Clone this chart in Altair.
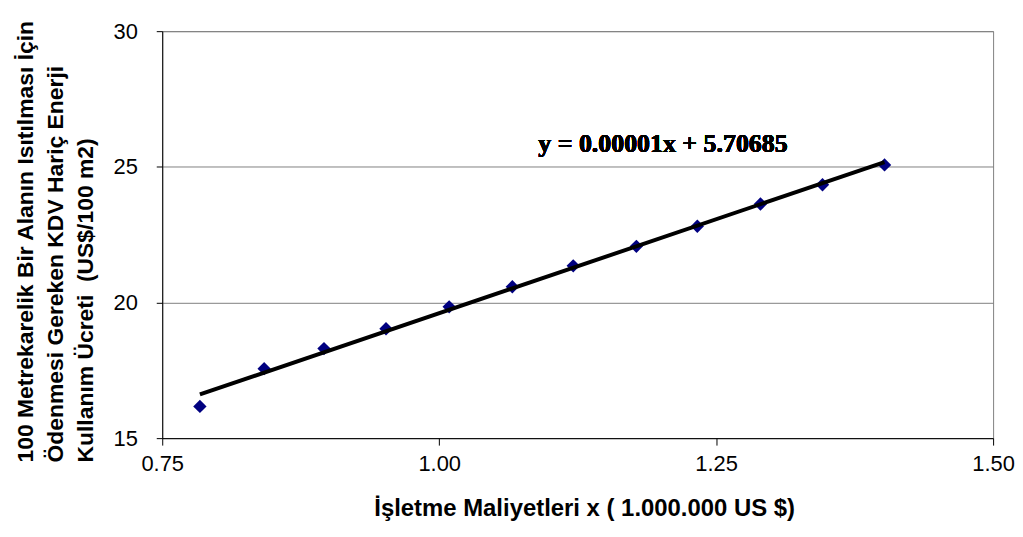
import altair as alt
import pandas as pd

# Data
cost_musd = [0.784, 0.842, 0.896, 0.952, 1.009, 1.066, 1.121, 1.178, 1.233, 1.290, 1.346, 1.402]
fee = [16.17, 17.56, 18.30, 19.03, 19.84, 20.58, 21.35, 22.07, 22.81, 23.63, 24.34, 25.07]
x_ticks = [0.75, 1.00, 1.25, 1.50]
y_ticks = [15, 20, 25, 30]
equation = "y = 0.00001x + 5.70685"
x_title = "İşletme Maliyetleri x ( 1.000.000 US $)"
y_title = [
    "100 Metrekarelik Bir Alanın Isıtılması İçin",
    "Ödenmesi Gereken KDV Hariç Enerji",
    "Kullanım Ücreti \u00a0(US$/100 m2)",
]

df = pd.DataFrame({"x": cost_musd, "y": fee})

xs = alt.Scale(domain=[0.75, 1.5], nice=False, zero=False)
ys = alt.Scale(domain=[15, 30], nice=False, zero=False)

xaxis = alt.Axis(
    values=x_ticks, format=".2f", title=x_title, grid=False,
    domainColor="black", tickColor="black", tickSize=7,
    labelFont="Liberation Sans", labelFontSize=22, labelColor="black",
    labelPadding=9, labelFlush=False,
    titleFont="Liberation Sans", titleFontSize=24, titleFontWeight="bold",
    titleColor="black", titlePadding=22, titleX=424,
)
yaxis = alt.Axis(
    values=y_ticks, format="d", title=y_title, grid=True,
    gridColor="#808080", gridOpacity=1, gridWidth=1,
    domainColor="black", tickColor="black", tickSize=6,
    labelFont="Liberation Sans", labelFontSize=22, labelColor="black",
    labelPadding=19, labelFlush=False,
    titleFont="Liberation Sans", titleFontSize=23, titleFontWeight="bold",
    titleColor="black", titleAngle=-90, titleAlign="left", titleBaseline="top",
    titleX=-148, titleY=433, titleLineHeight=30,
)

points = alt.Chart(df).mark_point(
    shape="diamond", filled=True, color="#000080", size=180, opacity=1
).encode(
    x=alt.X("x:Q", scale=xs, axis=xaxis),
    y=alt.Y("y:Q", scale=ys, axis=yaxis),
)

trend = alt.Chart(df).transform_regression("x", "y").mark_line(
    color="black", strokeWidth=4
).encode(
    x=alt.X("x:Q", scale=xs),
    y=alt.Y("y:Q", scale=ys),
)

label = alt.Chart(df).mark_text(
    font="Liberation Serif", fontSize=26, fontWeight="bold",
    align="center", baseline="alphabetic", color="black",
).encode(
    x=alt.datum(1.202),
    y=alt.datum(25.55),
    text=alt.value(equation),
)

chart = alt.layer(points, trend, label).properties(
    width=835, height=409,
    padding={"left": 7, "top": 10, "right": 0, "bottom": 0},
    background="white",
).configure_view(stroke="#808080", strokeWidth=1)

chart.save("out.html", embed_options={"renderer": "svg", "actions": False})
